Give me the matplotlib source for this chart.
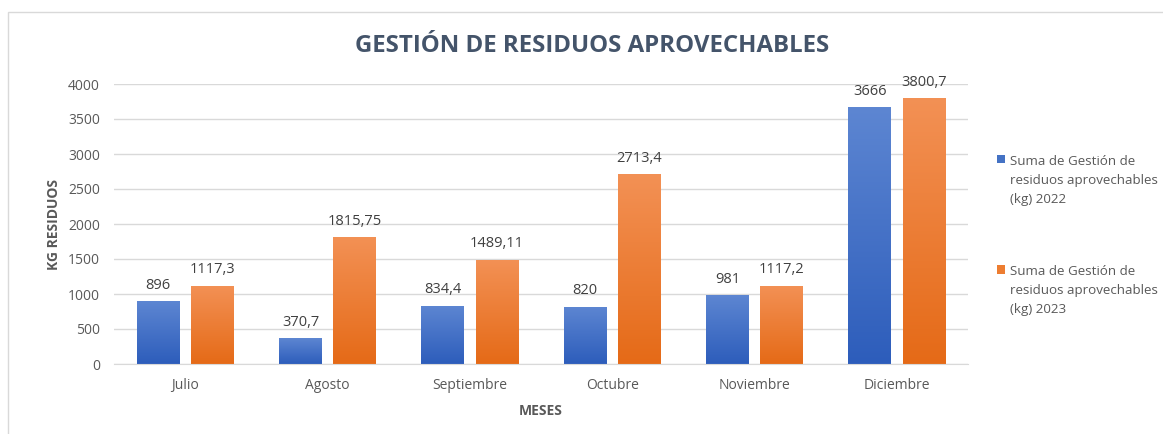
import numpy as np
import matplotlib.pyplot as plt
import matplotlib.patches as patches
from matplotlib.colors import LinearSegmentedColormap

meses = ["Julio", "Agosto", "Septiembre", "Octubre", "Noviembre", "Diciembre"]
kg_2022 = [896, 370.7, 834.4, 820, 981, 3666]
kg_2023 = [1117.3, 1815.75, 1489.11, 2713.4, 1117.2, 3800.7]
etiq_2022 = ["896", "370,7", "834,4", "820", "981", "3666"]
etiq_2023 = ["1117,3", "1815,75", "1489,11", "2713,4", "1117,2", "3800,7"]
leyenda = ["Suma de Gestión de\nresiduos aprovechables\n(kg) 2022",
           "Suma de Gestión de\nresiduos aprovechables\n(kg) 2023"]

plt.rcParams['font.family'] = ['Open Sans', 'DejaVu Sans']

fig = plt.figure(figsize=(11.63, 4.34), dpi=100)
fig.patch.set_facecolor("white")
# chart frame (cut off at right/bottom like the screenshot)
fig.patches.append(patches.Rectangle((8/1163, -0.1), 1.2, 1 - 12/434 + 0.1,
                                     transform=fig.transFigure, fill=False,
                                     edgecolor="#D9D9D9", linewidth=1))

ax = fig.add_axes([114/1163, 1 - 364/434, 854/1163, 280/434])

x = np.arange(len(meses))
w = 0.30
off = 0.19

def gradient_bars(bars, top, bottom):
    cmap = LinearSegmentedColormap.from_list("g", [bottom, top])
    grad = np.linspace(0, 1, 256).reshape(-1, 1)
    for b in bars:
        x0, y0 = b.get_x(), b.get_y()
        bw, bh = b.get_width(), b.get_height()
        im = ax.imshow(grad, cmap=cmap, origin="lower", aspect="auto",
                       extent=(x0, x0 + bw, y0, y0 + bh), zorder=2)
        im.set_clip_path(b)

b1 = ax.bar(x - off, kg_2022, w, color="#4472C4", zorder=2, label=leyenda[0])
b2 = ax.bar(x + off, kg_2023, w, color="#ED7D31", zorder=2, label=leyenda[1])
gradient_bars(b1, "#5D86D2", "#2D5DBB")
gradient_bars(b2, "#F39155", "#E56A17")

for b, t in zip(b1, etiq_2022):
    ax.annotate(t, (b.get_x() + b.get_width() / 2, b.get_height()),
                xytext=(0, 6), textcoords="offset points", ha="center",
                va="bottom", fontsize=10.5, color="#404040")
for b, t in zip(b2, etiq_2023):
    ax.annotate(t, (b.get_x() + b.get_width() / 2, b.get_height()),
                xytext=(0, 6), textcoords="offset points", ha="center",
                va="bottom", fontsize=10.5, color="#404040")

ax.set_xlim(-0.5, len(meses) - 0.5)
ax.set_ylim(0, 4000)
ax.set_yticks(np.arange(0, 4001, 500))
ax.set_xticks(x)
ax.set_xticklabels(meses)
ax.tick_params(length=0, labelsize=10, colors="#595959", pad=10)
ax.grid(axis="y", color="#D9D9D9", linewidth=1, zorder=0)
ax.set_axisbelow(True)
for s in ["top", "right", "left"]:
    ax.spines[s].set_visible(False)
ax.spines["bottom"].set_color("#D9D9D9")

ax.set_xlabel("MESES", fontsize=10, fontweight="bold", color="#595959", labelpad=8)
ax.set_ylabel("KG RESIDUOS", fontsize=10, fontweight="bold", color="#595959", labelpad=5)

fig.text(592/1163, 1 - 46/434, "GESTIÓN DE RESIDUOS APROVECHABLES", ha="center",
         va="center", fontsize=17.3, fontweight="bold", color="#44546A")

leg = fig.legend(handles=[b1, b2], labels=leyenda, loc="upper left",
                 bbox_to_anchor=(997/1163, 1 - 155/434), frameon=False,
                 fontsize=9.6, labelcolor="#595959", handlelength=0.6,
                 handleheight=0.6, handletextpad=0.35, labelspacing=4.45,
                 borderpad=0, borderaxespad=0)
for t in leg.get_texts():
    t.set_linespacing(1.6)
# square sits on the first line of each entry
for row in leg._legend_handle_box.get_children():
    for hp in row.get_children():
        hp.align = "top"

fig.savefig("out.png", dpi=100)
